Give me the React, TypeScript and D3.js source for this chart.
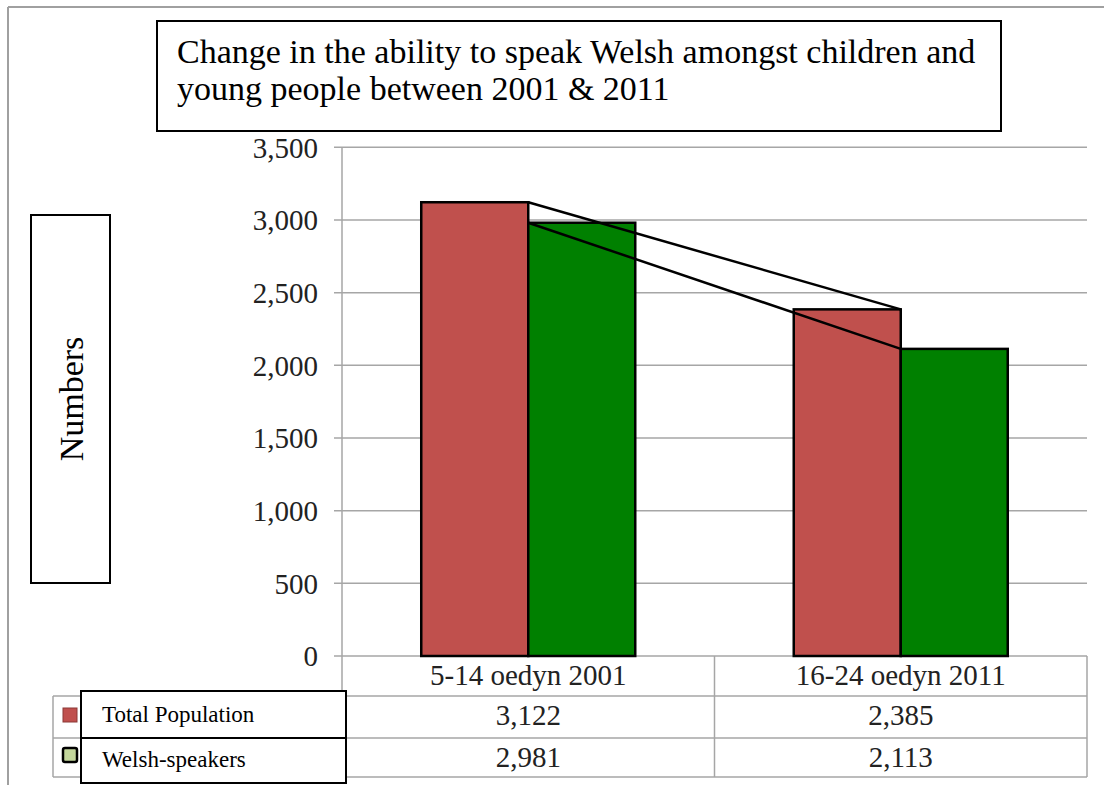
import React from 'react';
import * as d3 from 'd3';

const categories = ['5-14 oedyn 2001', '16-24 oedyn 2011'];
const seriesNames = ['Total Population', 'Welsh-speakers'];
const totalPopulation = [3122, 2385];
const welshSpeakers = [2981, 2113];
const yTicks = [0, 500, 1000, 1500, 2000, 2500, 3000, 3500];
const titleLines = [
  'Change in the ability to speak Welsh amongst children and',
  'young people between 2001 & 2011',
];
const yAxisTitle = 'Numbers';

const seriesValues = [totalPopulation, welshSpeakers];
const seriesFill = ['#C0504D', '#008000'];
const keyFill = ['#C0504D', '#C3D69B'];
const keyStroke = ['#8C3836', '#000000'];

const W = 1104;
const H = 785;
const FONT = '"Liberation Serif", "Times New Roman", serif';
const GRID = '#A6A6A6';

export default function App() {
  const plotLeft = 342;
  const plotRight = 1087;
  const y = d3.scaleLinear().domain([0, 3500]).range([656, 147.3]);
  const x = d3
    .scaleBand<string>()
    .domain(categories)
    .range([plotLeft, plotRight])
    .paddingInner(0.4255)
    .paddingOuter(0.21275);
  const xs = d3.scaleBand<string>().domain(seriesNames).range([0, x.bandwidth()]);
  const step = x.step();
  const y0 = y(0);

  const rowTop = [696, 738];
  const rowBottom = 777;
  const tableLeft = 53;

  const lineGen = d3
    .line<[number, number]>()
    .x((d) => d[0])
    .y((d) => d[1]);

  // series lines join the bars at the boundary between the two bars of each group
  const seriesLines = seriesValues.map((vals) =>
    lineGen(
      categories.map((c, i) => [
        (x(c) as number) + (xs(seriesNames[1]) as number),
        y(vals[i]),
      ]) as [number, number][]
    )
  );

  return (
    <svg
      width={W}
      height={H}
      style={{ position: 'absolute', left: 0, top: 0, background: '#fff' }}
      xmlns="http://www.w3.org/2000/svg"
    >
      <rect x={0} y={0} width={W} height={H} fill="#fff" />
      {/* outer frame */}
      <line x1={8} y1={7} x2={W} y2={7} stroke="#A0A0A0" strokeWidth={2} />
      <line x1={8} y1={7} x2={8} y2={H} stroke="#A0A0A0" strokeWidth={2} />

      {/* gridlines + ticks */}
      {yTicks.map((t) => (
        <g key={t}>
          <line
            x1={334}
            x2={plotRight}
            y1={y(t)}
            y2={y(t)}
            stroke={GRID}
            strokeWidth={1.5}
          />
          <text
            x={318}
            y={y(t)}
            dy="0.36em"
            textAnchor="end"
            fontFamily={FONT}
            fontSize={29}
            fill="#222"
          >
            {d3.format(',')(t)}
          </text>
        </g>
      ))}
      {/* y axis line, continues through the table */}
      <line x1={plotLeft} x2={plotLeft} y1={y(3500)} y2={rowBottom} stroke={GRID} strokeWidth={1.5} />

      {/* data table */}
      {rowTop.map((ry) => (
        <line key={ry} x1={tableLeft} x2={plotRight} y1={ry} y2={ry} stroke={GRID} strokeWidth={1.5} />
      ))}
      <line x1={tableLeft} x2={plotRight} y1={rowBottom} y2={rowBottom} stroke={GRID} strokeWidth={1.5} />
      <line x1={tableLeft} x2={tableLeft} y1={rowTop[0]} y2={rowBottom} stroke={GRID} strokeWidth={1.5} />
      {categories.map((c, i) => (
        <line
          key={c}
          x1={plotLeft + step * (i + 1)}
          x2={plotLeft + step * (i + 1)}
          y1={y0}
          y2={rowBottom}
          stroke={GRID}
          strokeWidth={1.5}
        />
      ))}
      {categories.map((c) => (
        <text
          key={c}
          x={(x(c) as number) + x.bandwidth() / 2}
          y={685}
          textAnchor="middle"
          fontFamily={FONT}
          fontSize={29}
          fill="#222"
        >
          {c}
        </text>
      ))}
      {seriesValues.map((vals, si) =>
        categories.map((c, i) => (
          <text
            key={si + c}
            x={(x(c) as number) + x.bandwidth() / 2}
            y={[725, 767][si]}
            textAnchor="middle"
            fontFamily={FONT}
            fontSize={29}
            fill="#222"
          >
            {d3.format(',')(vals[i])}
          </text>
        ))
      )}

      {/* bars */}
      {seriesValues.map((vals, si) =>
        categories.map((c, i) => (
          <rect
            key={si + c}
            x={(x(c) as number) + (xs(seriesNames[si]) as number)}
            y={y(vals[i])}
            width={xs.bandwidth()}
            height={y0 - y(vals[i])}
            fill={seriesFill[si]}
            stroke="#000"
            strokeWidth={2.5}
          />
        ))
      )}

      {/* series lines */}
      {seriesLines.map((d, i) => (
        <path key={i} d={d as string} fill="none" stroke="#000" strokeWidth={2.5} />
      ))}

      {/* legend keys + boxed labels */}
      {seriesNames.map((s, i) => (
        <g key={s}>
          <rect
            x={63}
            y={[708, 748][i]}
            width={14}
            height={14}
            fill={keyFill[i]}
            stroke={keyStroke[i]}
            strokeWidth={i === 1 ? 2.5 : 1}
            rx={i === 1 ? 2 : 0}
          />
          <rect
            x={81}
            y={[691, 738][i]}
            width={265}
            height={[47, 45][i]}
            fill="#fff"
            stroke="#000"
            strokeWidth={2}
          />
          <text
            x={102}
            y={[722, 767][i]}
            fontFamily={FONT}
            fontSize={23}
            fill="#000"
          >
            {s}
          </text>
        </g>
      ))}

      {/* y axis title box */}
      <rect x={31} y={215} width={79} height={368} fill="#fff" stroke="#000" strokeWidth={2} />
      <text
        transform={`translate(${71},${399}) rotate(-90)`}
        textAnchor="middle"
        dy="0.35em"
        fontFamily={FONT}
        fontSize={34}
        fill="#000"
      >
        {yAxisTitle}
      </text>

      {/* title box */}
      <rect x={157} y={21} width={844} height={110} fill="#fff" stroke="#000" strokeWidth={2} />
      {titleLines.map((l, i) => (
        <text
          key={i}
          x={177}
          y={[63, 100][i]}
          fontFamily={FONT}
          fontSize={34}
          fill="#000"
        >
          {l}
        </text>
      ))}
    </svg>
  );
}
